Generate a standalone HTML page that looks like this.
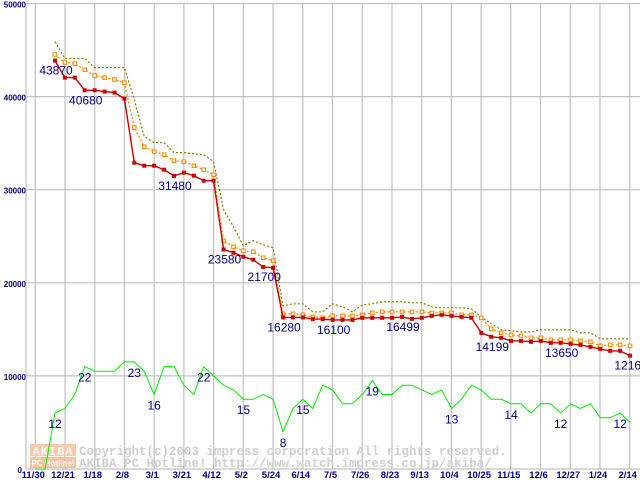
<!DOCTYPE html>
<html><head><meta charset="utf-8"><style>
body{margin:0;background:#fff;}
svg{display:block;font-family:"Liberation Sans",sans-serif;}
</style></head><body>
<svg id="chart" width="640" height="480" viewBox="0 0 640 480" xmlns="http://www.w3.org/2000/svg">
<g id="grid"></g>
<g id="logo">
 <rect x="30" y="444" width="46" height="12" fill="#f9c9aa"/>
 <text x="53" y="455" text-anchor="middle" font-size="12" font-weight="bold" fill="#fff" font-family="Liberation Mono, monospace" letter-spacing="1">AKIBA</text>
 <rect x="30" y="457" width="46" height="11" fill="#f9c3a0"/>
 <text x="53" y="466" text-anchor="middle" font-size="8" font-weight="bold" fill="#fff">PC Hotline!</text>
 <text x="79" y="455" font-size="12.5" font-weight="bold" fill="#cfcfcf" font-family="Liberation Mono, monospace">Copyright(c)2003 impress corporation All rights reserved.</text>
 <text x="79" y="467" font-size="12.5" font-weight="bold" fill="#cfcfcf" font-family="Liberation Mono, monospace">AKIBA PC Hotline! http://www.watch.impress.co.jp/akiba/</text>
</g>
<g id="series"></g>
<g id="labels"></g>
</svg>
<script>
const xTickLabels=["11/30","12/21","1/18","2/8","3/1","3/21","4/12","5/2","5/24","6/14","7/5","7/26","8/23","9/13","10/4","10/25","11/15","12/6","12/27","1/24","2/14"];
const yTickValues=[0,10000,20000,30000,40000,50000];
const minPrice=[43870,42040,42040,40680,40680,40540,40430,39780,32900,32580,32580,32150,31480,31830,31510,30970,30970,23580,23230,22800,22470,21700,21610,16280,16280,16280,16100,16100,16020,16020,16020,16240,16240,16240,16240,16340,16130,16240,16450,16560,16450,16340,16240,14620,14199,14090,13760,13760,13660,13760,13550,13550,13440,13330,13120,12900,12690,12690,12169];
const avgPrice=[44520,43660,43550,42900,42260,42040,41830,41500,36670,34620,34090,33760,33120,33010,32580,32150,31610,24520,23870,23440,23330,22690,22370,16670,16670,16560,16340,16240,16450,16450,16450,16560,16770,16880,16880,16880,16880,16880,16770,16770,16770,16560,16560,16240,15050,14620,14410,14300,14090,14090,13870,13870,13870,13760,13660,13230,13330,13330,13230];
const maxPrice=[45910,44090,44090,44090,43120,43120,43120,43120,39680,35700,35050,35050,33980,33980,33870,33760,33010,27850,26020,23980,24520,24090,23760,17530,17740,17740,16880,16880,17740,17420,16880,17630,17740,17960,17960,17960,17850,17850,17420,17310,17310,17310,17200,16340,15590,14950,14840,14730,14730,14950,14950,14950,14950,14620,14620,13980,13980,13980,13980];
const shopCount=[0,0,12,13,16,22,21,21,21,23,23,21,16,22,22,18,16,22,20,18,17,15,15,16,15,8,13,15,13,18,17,14,14,16,19,16,16,18,18,17,16,17,13,15,18,17,15,15,14,14,12,14,14,12,14,13,14,11,11,12,10];
const priceLabels=[[0,"43870"],[3,"40680"],[12,"31480"],[17,"23580"],[21,"21700"],[23,"16280"],[28,"16100"],[35,"16499"],[44,"14199"],[51,"13650"],[58,"12169"]];
const countLabels=[[0,"12"],[3,"22"],[8,"23"],[10,"16"],[15,"22"],[19,"15"],[23,"8"],[25,"15"],[32,"19"],[40,"13"],[46,"14"],[51,"12"],[57,"12"]];
const NS="http://www.w3.org/2000/svg";
const X=i=>55+i*9.915, Y=v=>469-v*0.00931;
const TX=k=>35.3+k*29.72;
function mk(tag,attrs,parent,text){const e=document.createElementNS(NS,tag);for(const k in attrs)e.setAttribute(k,attrs[k]);if(text!==undefined)e.textContent=text;parent.appendChild(e);return e;}
const grid=document.getElementById('grid'),ser=document.getElementById('series'),lab=document.getElementById('labels');
yTickValues.forEach(v=>{
 const l=mk('line',{x1:26,x2:640,y1:Y(v),y2:Y(v),stroke:'#c0c0c0','stroke-width':1.2},grid);
 
 
 const t=mk('text',{x:v===0?22:26,y:Y(v)+4,'text-anchor':'end','font-size':8,'font-weight':'bold',fill:'#000080'},grid,String(v));
 
 
});
mk('line',{x1:26,x2:26,y1:4,y2:469,stroke:'#c0c0c0','stroke-width':1.2},grid);
xTickLabels.forEach((s,k)=>{
 const l=mk('line',{x1:TX(k),x2:TX(k),y1:4,y2:469,stroke:'#c0c0c0','stroke-width':1.2},grid);
 
 
 const t=mk('text',{x:TX(k)-2,y:478,'text-anchor':'middle','font-size':9.5,'font-weight':'bold',fill:'#000080'},grid,s);
 
 
});
function pts(arr,off){return arr.map((v,i)=>X(i-off).toFixed(1)+','+Y(v).toFixed(1)).join(' ');}
const g1=mk('polyline',{points:pts(shopCount.map(c=>c*500),2),fill:'none',stroke:'#00ee00','stroke-width':1},ser);


const g2=mk('polyline',{points:pts(maxPrice,0),fill:'none',stroke:'#808000','stroke-width':1.2,'stroke-dasharray':'2,2'},ser);


const g3=mk('polyline',{points:pts(avgPrice,0),fill:'none',stroke:'#ff8c00','stroke-width':1.3,'stroke-dasharray':'2,2'},ser);


avgPrice.forEach((v,i)=>{const r=mk('rect',{x:X(i)-1.75,y:Y(v)-1.75,width:3.5,height:3.5,fill:'#fff',stroke:'#ff8c00','stroke-width':1.1},ser);
 
 });
const g4=mk('polyline',{points:pts(minPrice,0),fill:'none',stroke:'#cc0000','stroke-width':1.4},ser);


minPrice.forEach((v,i)=>{const r=mk('rect',{x:X(i)-2,y:Y(v)-2,width:4,height:4,fill:'#cc0000'},ser);
 
 });
priceLabels.forEach(([i,s])=>{const t=mk('text',{x:X(i)+1,y:Y(minPrice[i])+14,'text-anchor':'middle','font-size':12,fill:'#000080'},lab,s);
 
 });
countLabels.forEach(([i,s])=>{const t=mk('text',{x:X(i),y:Y(shopCount[i+2]*500)+15,'text-anchor':'middle','font-size':12,fill:'#000080'},lab,s);
 
 });
</script>
</body></html>
